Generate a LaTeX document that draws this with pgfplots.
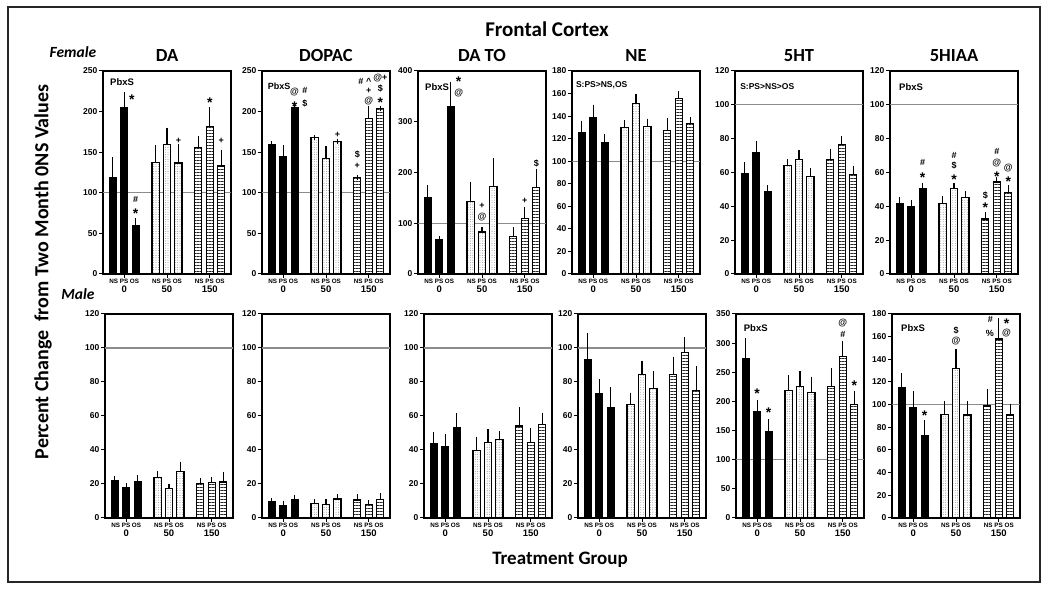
\documentclass[border=0pt]{standalone}
\usepackage{pgfplots}
\pgfplotsset{compat=1.18}
\usetikzlibrary{patterns.meta}
\usepackage{fontspec}
\setmainfont{Liberation Sans}
\newfontfamily\calfont{Carlito}

\newcommand\nps{{\fontsize{6.3}{6.5}\selectfont NS PS OS}}

\tikzset{
  sy/.style={font=\bfseries\fontsize{9}{9}\selectfont, anchor=base, yshift=-3.2pt, inner sep=0pt},
  st/.style={font=\bfseries\fontsize{14}{14}\selectfont, anchor=base, yshift=-8pt, inner sep=0pt},
  lab/.style={font=\bfseries\fontsize{9.5}{10}\selectfont, anchor=north west, inner sep=0pt},
}

\pgfplotsset{
  panel/.style={
    anchor=south west, scale only axis, width=128pt,
    xmin=-0.85, xmax=10.33, ymin=0, clip=false,
    axis line style={line width=1.3pt},
    tick style={black, line width=1pt},
    major tick length=4pt, tick align=outside,
    xtick pos=left, ytick pos=left,
    xtick={1,4.74,8.48},
    xticklabels={{\nps\\0},{\nps\\50},{\nps\\150}},
    xticklabel style={align=center, font=\bfseries\fontsize{9.5}{8.5}\selectfont, inner sep=1pt},
    yticklabel style={font=\bfseries\fontsize{8.5}{8.5}\selectfont, inner sep=1.5pt},
    /pgf/number format/assume math mode=true,
    title style={font=\calfont\bfseries\fontsize{18.5}{20}\selectfont, at={(0.5,1)}, anchor=base, yshift=3pt},
  },
  top/.style={panel, height=203pt},
  bot/.style={panel, height=204pt},
  eb/.style={error bars/y dir=plus, error bars/y explicit,
    error bars/error bar style={line width=1.1pt, black},
    error bars/error mark options={line width=1.1pt, black, mark size=2.6pt}},
  blk/.style={ybar, bar width=0.62, bar shift=0pt, draw=black, fill=black, line width=1.1pt, eb},
  dot/.style={ybar, bar width=0.62, bar shift=0pt, draw=black, fill=white, line width=1.1pt,
    postaction={pattern={Dots[distance=2.4pt,radius=0.4pt]}, pattern color=black!60, draw=black, line width=1.1pt}, eb},
  hln/.style={ybar, bar width=0.62, bar shift=0pt, draw=black, fill=white, line width=1.1pt,
    postaction={pattern={Lines[angle=0,distance=3pt,line width=0.9pt]}, pattern color=black!85, draw=black, line width=1.1pt}, eb},
  refl/.style={forget plot, draw=black!45, line width=1.3pt},
}

\begin{document}
\begin{tikzpicture}[x=1pt, y=1pt]
\useasboundingbox (0,0) rectangle (1050,589);
\coordinate (f1) at (103,315);
\coordinate (f2) at (262,315);
\coordinate (f3) at (418,315);
\coordinate (f4) at (572,315);
\coordinate (f5) at (735,315);
\coordinate (f6) at (890,315);
\coordinate (m1) at (105,71);
\coordinate (m2) at (262,71);
\coordinate (m3) at (424,71);
\coordinate (m4) at (578,71);
\coordinate (m5) at (736,71);
\coordinate (m6) at (892,71);

% ---------------- Female ----------------
\begin{axis}[top, at={(f1)}, ymax=250, ytick={0,50,...,250}, title={DA}]
\addplot[refl] coordinates {(-0.85,100) (10.33,100)};
\addplot[blk] coordinates {(0,118.6) +- (0,22.4) (1,204.8) +- (0,16.2) (2,60) +- (0,5.7)};
\addplot[dot] coordinates {(3.74,137) +- (0,18.6) (4.74,159.7) +- (0,17.3) (5.74,136.7) +- (0,19.7)};
\addplot[hln] coordinates {(7.48,156) +- (0,11) (8.48,182) +- (0,21) (9.48,133) +- (0,17)};
\node[lab] at (rel axis cs:0.055,0.965) {PbxS};
\node[st] at (axis cs:1.68,218) {*};
\node[sy] at (axis cs:2,92) {\#};
\node[st] at (axis cs:2,78) {*};
\node[sy] at (axis cs:5.74,165) {+};
\node[st] at (axis cs:8.48,215) {*};
\node[sy] at (axis cs:9.48,165) {+};
\end{axis}

\begin{axis}[top, at={(f2)}, ymax=250, ytick={0,50,...,250}, title={DOPAC}]
\addplot[refl] coordinates {(-0.85,100) (10.33,100)};
\addplot[blk] coordinates {(0,160) +- (0,0) (1,144.5) +- (0,11.1) (2,205) +- (0,0)};
\addplot[dot] coordinates {(3.74,168) +- (0,0) (4.74,142.4) +- (0,11.6) (5.74,163.4) +- (0,0)};
\addplot[hln] coordinates {(7.48,119) +- (0,0) (8.48,191.7) +- (0,12.3) (9.48,204) +- (0,0)};
\node[lab, font=\bfseries\fontsize{9}{10}\selectfont] at (rel axis cs:0.045,0.94) {PbxS};
\node[sy] at (axis cs:2,224.5) {@};
\node[sy] at (axis cs:2.9,226) {\#};
\node[st] at (axis cs:2,210) {*};
\node[sy] at (axis cs:2.9,210) {\$};
\node[sy] at (axis cs:5.74,172) {+};
\node[sy] at (axis cs:7.48,147.4) {\$};
\node[sy] at (axis cs:7.48,134) {+};
\node[sy] at (axis cs:7.78,237) {\#};
\node[sy] at (axis cs:8.48,237) {\^{}};
\node[sy] at (axis cs:8.48,225.8) {+};
\node[sy] at (axis cs:8.48,214.3) {@};
\node[sy] at (axis cs:9.48,241.8) {@+};
\node[sy] at (axis cs:9.48,228.7) {\$};
\node[st] at (axis cs:9.48,214.3) {*};
\end{axis}

\begin{axis}[top, at={(f3)}, ymax=400, ytick={0,100,...,400}, title={DA TO}]
\addplot[refl] coordinates {(-0.85,100) (10.33,100)};
\addplot[blk] coordinates {(0,150.4) +- (0,19.6) (1,67) +- (0,2.6) (2,329.7) +- (0,44)};
\addplot[dot] coordinates {(3.74,142.5) +- (0,34.2) (4.74,82.8) +- (0,3.9) (5.74,172) +- (0,50.7)};
\addplot[hln] coordinates {(7.48,73.6) +- (0,13.1) (8.48,109.7) +- (0,17.7) (9.48,170) +- (0,32.3)};
\node[lab] at (rel axis cs:0.055,0.94) {PbxS};
\node[st] at (axis cs:2.7,385) {*};
\node[sy] at (axis cs:2.7,359) {@};
\node[sy] at (axis cs:4.74,134.6) {+};
\node[sy] at (axis cs:4.74,113) {@};
\node[sy] at (axis cs:8.48,145.8) {+};
\node[sy] at (axis cs:9.48,218) {\$};
\end{axis}

\begin{axis}[top, at={(f4)}, ymax=180, ytick={0,20,...,180}, title={NE}]
\addplot[refl] coordinates {(-0.85,100) (10.33,100)};
\addplot[blk] coordinates {(0,125.3) +- (0,8.3) (1,139) +- (0,8.8) (2,116.8) +- (0,5.2)};
\addplot[dot] coordinates {(3.74,129.8) +- (0,4.4) (4.74,151) +- (0,6.3) (5.74,131) +- (0,4.4)};
\addplot[hln] coordinates {(7.48,127) +- (0,8.7) (8.48,155.5) +- (0,4.7) (9.48,133.6) +- (0,3.3)};
\node[lab, font=\bfseries\fontsize{8.5}{9}\selectfont] at (rel axis cs:0.03,0.95) {S:PS>NS,OS};
\end{axis}

\begin{axis}[top, at={(f5)}, ymax=120, ytick={0,20,...,120}, title={5HT}]
\addplot[refl] coordinates {(-0.85,100) (10.33,100)};
\addplot[blk] coordinates {(0,59.5) +- (0,4.9) (1,71.7) +- (0,5.5) (2,48.9) +- (0,1.9)};
\addplot[dot] coordinates {(3.74,64) +- (0,2.4) (4.74,67.8) +- (0,3.9) (5.74,57.5) +- (0,3.5)};
\addplot[hln] coordinates {(7.48,67.8) +- (0,4.7) (8.48,76.8) +- (0,3.4) (9.48,58.9) +- (0,3.6)};
\node[lab, font=\bfseries\fontsize{8.5}{9}\selectfont] at (rel axis cs:0.04,0.94) {S:PS>NS>OS};
\end{axis}

\begin{axis}[top, at={(f6)}, ymax=120, ytick={0,20,...,120}, title={5HIAA}]
\addplot[refl] coordinates {(-0.85,100) (10.33,100)};
\addplot[blk] coordinates {(0,41.8) +- (0,1.9) (1,39.8) +- (0,2.4) (2,50.8) +- (0,1.4)};
\addplot[dot] coordinates {(3.74,41.8) +- (0,2.7) (4.74,50.4) +- (0,1.8) (5.74,45.1) +- (0,2.4)};
\addplot[hln] coordinates {(7.48,32.5) +- (0,2.4) (8.48,54.4) +- (0,1.2) (9.48,48.3) +- (0,2.7)};
\node[lab] at (rel axis cs:0.07,0.94) {PbxS};
\node[sy] at (axis cs:2,65.8) {\#};
\node[st] at (axis cs:2,59.1) {*};
\node[sy] at (axis cs:4.74,70.3) {\#};
\node[sy] at (axis cs:4.74,64) {\$};
\node[st] at (axis cs:4.74,57.5) {*};
\node[sy] at (axis cs:7.48,46.7) {\$};
\node[st] at (axis cs:7.48,40.8) {*};
\node[sy] at (axis cs:8.48,72.3) {\#};
\node[sy] at (axis cs:8.48,65.8) {@};
\node[st] at (axis cs:8.48,59.5) {*};
\node[sy] at (axis cs:9.48,63) {@};
\node[st] at (axis cs:9.48,56.6) {*};
\end{axis}

% ---------------- Male ----------------
\begin{axis}[bot, at={(m1)}, ymax=120, ytick={0,20,...,120}]
\addplot[refl] coordinates {(-0.85,100) (10.33,100)};
\addplot[blk] coordinates {(0,21.8) +- (0,1.2) (1,17.7) +- (0,1.2) (2,21.2) +- (0,2.6)};
\addplot[dot] coordinates {(3.74,23.6) +- (0,2.6) (4.74,17.3) +- (0,1.0) (5.74,27.1) +- (0,4.6)};
\addplot[hln] coordinates {(7.48,20.5) +- (0,1.5) (8.48,20.9) +- (0,1.5) (9.48,21.2) +- (0,4.6)};
\end{axis}

\begin{axis}[bot, at={(m2)}, ymax=120, ytick={0,20,...,120}]
\addplot[refl] coordinates {(-0.85,100) (10.33,100)};
\addplot[blk] coordinates {(0,9.4) +- (0,0.6) (1,7.5) +- (0,1.2) (2,10.6) +- (0,1.6)};
\addplot[dot] coordinates {(3.74,8.5) +- (0,1.1) (4.74,7.9) +- (0,1.5) (5.74,11.2) +- (0,1.4)};
\addplot[hln] coordinates {(7.48,10.6) +- (0,1.8) (8.48,8.1) +- (0,1.1) (9.48,10.8) +- (0,2.4)};
\end{axis}

\begin{axis}[bot, at={(m3)}, ymax=120, ytick={0,20,...,120}]
\addplot[refl] coordinates {(-0.85,100) (10.33,100)};
\addplot[blk] coordinates {(0,43.9) +- (0,4.9) (1,41.9) +- (0,5.9) (2,53.1) +- (0,7.1)};
\addplot[dot] coordinates {(3.74,39.5) +- (0,6.9) (4.74,44.3) +- (0,6.5) (5.74,46) +- (0,3.6)};
\addplot[hln] coordinates {(7.48,54.1) +- (0,9.4) (8.48,44.3) +- (0,7.4) (9.48,55.1) +- (0,5.3)};
\end{axis}

\begin{axis}[bot, at={(m4)}, ymax=120, ytick={0,20,...,120}]
\addplot[refl] coordinates {(-0.85,100) (10.33,100)};
\addplot[blk] coordinates {(0,93.4) +- (0,13.8) (1,73) +- (0,7.3) (2,64.7) +- (0,10.6)};
\addplot[dot] coordinates {(3.74,67) +- (0,5.2) (4.74,84.6) +- (0,6.5) (5.74,76.1) +- (0,8.9)};
\addplot[hln] coordinates {(7.48,84.4) +- (0,9) (8.48,97.6) +- (0,7.3) (9.48,75.1) +- (0,12.6)};
\end{axis}

\begin{axis}[bot, at={(m5)}, ymax=350, ytick={0,50,...,350}]
\addplot[refl] coordinates {(-0.85,100) (10.33,100)};
\addplot[blk] coordinates {(0,274.3) +- (0,29.7) (1,183) +- (0,14.4) (2,148) +- (0,17.8)};
\addplot[dot] coordinates {(3.74,218) +- (0,22.4) (4.74,225.5) +- (0,21.8) (5.74,215.7) +- (0,22.3)};
\addplot[hln] coordinates {(7.48,226) +- (0,26.4) (8.48,277.7) +- (0,21.3) (9.48,194.5) +- (0,18.9)};
\node[lab] at (rel axis cs:0.06,0.95) {PbxS};
\node[st] at (axis cs:1,218) {*};
\node[st] at (axis cs:2,186) {*};
\node[sy] at (axis cs:8.48,336) {@};
\node[sy] at (axis cs:8.48,315) {\#};
\node[st] at (axis cs:9.48,233) {*};
\end{axis}

\begin{axis}[bot, at={(m6)}, ymax=180, ytick={0,20,...,180}]
\addplot[refl] coordinates {(-0.85,100) (10.33,100)};
\addplot[blk] coordinates {(0,114.8) +- (0,10.6) (1,97.7) +- (0,11.8) (2,72.9) +- (0,11.2)};
\addplot[dot] coordinates {(3.74,91.2) +- (0,9.4) (4.74,132.2) +- (0,14.5) (5.74,90.9) +- (0,9.7)};
\addplot[hln] coordinates {(7.48,98.8) +- (0,12.4) (8.48,157.9) +- (0,16.2) (9.48,90.9) +- (0,7.4)};
\node[lab] at (rel axis cs:0.07,0.95) {PbxS};
\node[st] at (axis cs:2,93) {*};
\node[sy] at (axis cs:4.74,166) {\$};
\node[sy] at (axis cs:4.74,157) {@};
\node[sy] at (axis cs:7.75,175) {\#};
\node[sy] at (axis cs:7.7,163) {\%};
\node[st] at (axis cs:9.15,174) {*};
\node[sy] at (axis cs:9.15,164) {@};
\end{axis}

% ---------------- texts and frame ----------------
\node[font=\calfont\bfseries\fontsize{21}{24}\selectfont] at (547,560) {Frontal Cortex};
\node[font=\calfont\bfseries\itshape\fontsize{15.5}{18}\selectfont] at (73,537) {Female};
\node[font=\calfont\bfseries\itshape\fontsize{15.5}{18}\selectfont] at (78,295) {Male};
\node[rotate=90, font=\calfont\bfseries\fontsize{20}{22}\selectfont] at (43,317) {Percent Change~~from Two Month 0NS Values};
\node[font=\calfont\bfseries\fontsize{19}{22}\selectfont] at (560,29) {Treatment Group};
\draw[line width=2pt, black!85] (8,7) rectangle (1040,582);
\end{tikzpicture}
\end{document}
